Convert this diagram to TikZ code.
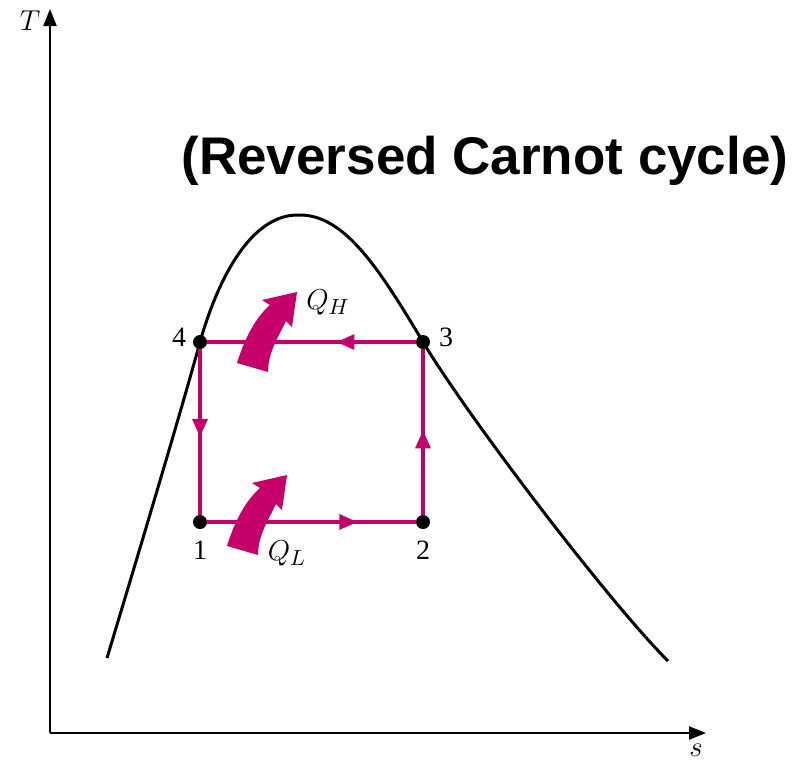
\documentclass[tikz,border=0pt]{standalone}
\usepackage{fontspec}
\setmainfont{Liberation Serif}
\newfontfamily\titlefont{Liberation Sans}
\usetikzlibrary{arrows.meta, decorations.markings}
\definecolor{cycM}{RGB}{198,0,106}
\tikzset{
  state/.style={circle, fill=black, inner sep=0pt, minimum size=7pt},
  cycline/.style={cycM, line width=1.6pt},
  midarrow/.style={postaction={decorate}, decoration={markings,
    mark=at position #1 with {\arrow{Triangle[length=9pt,width=7.5pt]}}}},
  axisline/.style={line width=1.1pt, -{Triangle[length=8.5pt,width=6.5pt]}},
  satcurve/.style={line width=1.5pt, line join=round},
  numlabel/.style={font=\fontsize{14}{16}\selectfont},
  mathlabel/.style={font=\fontsize{15}{18}\selectfont}
}

\begin{document}
\begin{tikzpicture}[x=0.5pt, y=-0.5pt]
\useasboundingbox (0,0) rectangle (796,760);
% ---- axes ----
\coordinate (O) at (50,733);
\coordinate (Ttip) at (50,9);
\coordinate (stip) at (706,733);
\draw[axisline] (O) -- (Ttip);
\draw[axisline] (O) -- (stip);
\node[mathlabel] (Tlab) at (30,21) {$T$};
\node[mathlabel] (slab) at (696,750) {$s$};
% ---- title ----
\node[font=\titlefont\bfseries\fontsize{26.5}{30}\selectfont, anchor=base] (title) at (485,174) {(Reversed Carnot cycle)};
% ---- saturation dome ----
\draw[satcurve] (107,658) .. controls (138,555) and (180,415) .. (200,342)
  .. controls (217,282) and (250,213) .. (300,215)
  .. controls (345,215) and (380,270) .. (423,342)
  .. controls (468,417) and (608,601) .. (668,661);
% ---- cycle states ----
\node[state] (p1) at (200,522) {};
\node[state] (p2) at (423,522) {};
\node[state] (p3) at (423,342) {};
\node[state] (p4) at (200,342) {};
\node[numlabel] (n1) at (200,550) {1};
\node[numlabel] (n2) at (423,550) {2};
\node[numlabel] (n3) at (446,337) {3};
\node[numlabel] (n4) at (179,337) {4};
% ---- cycle processes ----
\draw[cycline, midarrow=0.72] (p1) -- (p2);
\draw[cycline, midarrow=0.51] (p2) -- (p3);
\draw[cycline, midarrow=0.38] (p3) -- (p4);
\draw[cycline, midarrow=0.53] (p4) -- (p1);
% ---- heat transfer arrows (Q_H, then Q_L shifted down) ----
\foreach \dx/\dy in {0/0,-10/183}{
  \fill[cycM, shift={(\dx,\dy)}] (237,363) .. controls (244,340) and (255,318) .. (270,305)
    -- (262,300) -- (297,292) -- (292,327) -- (286,321)
    .. controls (279,336) and (268,352) .. (268,372) -- cycle;}
\node[mathlabel] (QH) at (328,302) {$Q_H$};
\node[mathlabel] (QL) at (287,553) {$Q_L$};
\end{tikzpicture}
\end{document}
